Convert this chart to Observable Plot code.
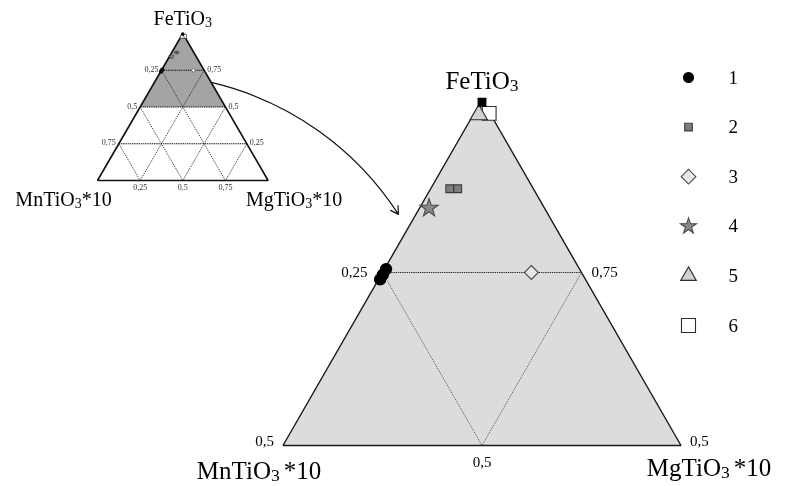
<!DOCTYPE html>
<html><head><meta charset="utf-8">
<script src="https://cdn.jsdelivr.net/npm/d3@7"></script>
<script src="https://cdn.jsdelivr.net/npm/@observablehq/plot@0.6"></script>
<style>
body{margin:0;background:#fff;}
#chart svg{display:block;font-family:"Liberation Serif","Times New Roman",serif;will-change:transform;}
</style>
</head><body><div id="chart"></div>
<script>
// ---------- data ----------
const componentNames = ["FeTiO3", "MnTiO3*10", "MgTiO3*10"];
const seriesLabels = ["1", "2", "3", "4", "5", "6"];
// each analysed point: series, FeTiO3, MnTiO3*10, MgTiO3*10 fractions
const pointSeries = ["1", "1", "1", "2", "2", "3", "4", "6", "5", "1b"];
const feTiO3     = [0.755, 0.747, 0.740, 0.871, 0.871, 0.750, 0.843, 0.980, 0.978, 0.996];
const mnTiO3x10  = [0.243, 0.251, 0.258, 0.105, 0.095, 0.063, 0.145, 0.001, 0.015, 0.002];
const mgTiO3x10  = [0.002, 0.002, 0.002, 0.024, 0.034, 0.187, 0.012, 0.019, 0.007, 0.002];
const gridLevels = [0.25, 0.5, 0.75];
const leftTickLabels  = ["0,25", "0,5", "0,75"];   // at FeTiO3 = 0.75, 0.5, 0.25
const rightTickLabels = ["0,75", "0,5", "0,25"];   // at FeTiO3 = 0.75, 0.5, 0.25
const baseTickLabels  = ["0,25", "0,5", "0,75"];   // at MgTiO3*10 = 0.25, 0.5, 0.75
const bigBaseLabel = "0,5";

// ---------- layout / styles ----------
const BIG   = {cx: 481.5, kx: 398, ay: 99, ky: 692};
const SMALL = {cx: 182.3, kx: 85.3, ay: 33, ky: 147};
const styles = {
  "1":  {symbol: "circle",   fill: "#000",    stroke: "#000",    r: 5.6},
  "1b": {symbol: "square",   fill: "#000",    stroke: "#000",    r: 4.4},
  "2":  {symbol: "square",   fill: "#7d7d7d", stroke: "#3c3c3c", r: 4.4},
  "3":  {symbol: "diamond2", fill: "#e8e8e8", stroke: "#4a4a4a", r: 6.3},
  "4":  {symbol: "star",     fill: "#8a8a8a", stroke: "#4a4a4a", r: 5.7},
  "5":  {symbol: "triangle", fill: "#d2d2d2", stroke: "#2e2e2e", r: 6.4},
  "6":  {symbol: "square",   fill: "#ffffff", stroke: "#2e2e2e", r: 7.8}
};
const legendStyleR = {"1": 5, "2": 4.3, "3": 6.6, "4": 5, "5": 5.8, "6": 7.9};
const drawOrder = ["1", "2", "3", "4", "6", "5", "1b"];

const X = (T, f, m, g) => T.cx + (g - m) * T.kx;
const Y = (T, f, m, g) => T.ay + (1 - f) * T.ky;
const pt = (T, c) => ({x: X(T, c[0], c[1], c[2]), y: Y(T, c[0], c[1], c[2])});

const points = pointSeries.map((s, i) => ({series: s, f: feTiO3[i], m: mnTiO3x10[i], g: mgTiO3x10[i]}));

// polygons
const smallTri = [[1,0,0],[0,1,0],[0,0,1],[1,0,0]].map(c => pt(SMALL, c));
const smallShade = [[1,0,0],[0.5,0.5,0],[0.5,0,0.5],[1,0,0]].map(c => pt(SMALL, c));
const bigTri = [[1,0,0],[0.5,0.5,0],[0.5,0,0.5],[1,0,0]].map(c => pt(BIG, c));

// grid segments
const seg = (T, a, b, kind) => {const p = pt(T, a), q = pt(T, b); return {x1: p.x, y1: p.y, x2: q.x, y2: q.y, kind};};
const smallGrid = gridLevels.flatMap(v => [
  seg(SMALL, [v, 1 - v, 0], [v, 0, 1 - v], "h"),
  seg(SMALL, [1 - v, v, 0], [0, v, 1 - v], "d"),
  seg(SMALL, [1 - v, 0, v], [0, 1 - v, v], "d")
]);
const bigGrid = [
  ...gridLevels.filter(v => v > 0.5).map(v => seg(BIG, [v, 1 - v, 0], [v, 0, 1 - v], "h")),
  ...gridLevels.filter(v => v < 0.5).flatMap(v => [
    seg(BIG, [1 - v, v, 0], [0.5, v, 0.5 - v], "d"),
    seg(BIG, [1 - v, 0, v], [0.5, 0.5 - v, v], "d")
  ])
];

function pointMarks(T, small) {
  return drawOrder.map(key => {
    const st = styles[key];
    return Plot.dot(points.filter(p => p.series === key), {
      x: p => X(T, p.f, p.m, p.g), y: p => Y(T, p.f, p.m, p.g),
      symbol: st.symbol, fill: small && key !== "1" && key !== "1b" && key !== "2" && key !== "4" ? "#fff" : st.fill,
      stroke: st.stroke, r: small ? Math.max(1.3, st.r * 0.3) : st.r,
      strokeWidth: small ? 0.7 : 1.1
    });
  });
}

// tick label rows
const smallTicks = [
  ...gridLevels.map((v, i) => ({...pt(SMALL, [1 - v, v, 0]), label: leftTickLabels[i], side: "L"})),
  ...gridLevels.map((v, i) => ({...pt(SMALL, [1 - v, 0, v]), label: rightTickLabels[i], side: "R"})),
  ...gridLevels.map((v, i) => ({...pt(SMALL, [0, 1 - v, v]), label: baseTickLabels[i], side: "B"}))
];
const bigTicks = [
  ...gridLevels.filter(v => v <= 0.5).map(v => ({...pt(BIG, [1 - v, v, 0]), label: leftTickLabels[gridLevels.indexOf(v)], side: "L", corner: v === 0.5})),
  ...gridLevels.filter(v => v <= 0.5).map(v => ({...pt(BIG, [1 - v, 0, v]), label: rightTickLabels[gridLevels.indexOf(v)], side: "R", corner: v === 0.5})),
  {...pt(BIG, [0.5, 0.25, 0.25]), label: bigBaseLabel, side: "B"}
];

const arrowData = [{from: pt(SMALL, [0.667, 0, 0.333]), to: pt(BIG, [0.834, 0.188, -0.022])}];

const legendRows = seriesLabels.map((s, i) => ({label: s, y: 77 + i * 49.6}));

const T1 = (arr, opts) => Plot.text(arr, {x: "x", y: "y", text: "label", ...opts});
const nameMark = (T, c, name, opts) => Plot.text([name], {x: () => X(T, ...c), y: () => Y(T, ...c), text: d => d, ...opts});

const chart = Plot.plot({
  width: 791, height: 486, margin: 0,
  x: {domain: [0, 791], range: [0, 791], axis: null},
  y: {domain: [0, 486], range: [0, 486], axis: null},
  marks: [
    // small triangle
    Plot.line(smallShade, {x: "x", y: "y", fill: "#a4a4a4", stroke: "none"}),
    Plot.link(smallGrid.filter(d => d.kind === "d"), {x1: "x1", y1: "y1", x2: "x2", y2: "y2", stroke: "#2a2a2a", strokeWidth: 0.9, strokeDasharray: "1.2,1"}),
    Plot.link(smallGrid.filter(d => d.kind === "h"), {x1: "x1", y1: "y1", x2: "x2", y2: "y2", stroke: "#111", strokeWidth: 1.1, strokeDasharray: "1.4,0.8"}),
    Plot.line(smallTri, {x: "x", y: "y", stroke: "#111", strokeWidth: 1.6, strokeLinejoin: "miter"}),
    ...pointMarks(SMALL, true),
    T1(smallTicks.filter(d => d.side === "L"), {textAnchor: "end", dx: -3, dy: -1, fontSize: 8, fill: "#333"}),
    T1(smallTicks.filter(d => d.side === "R"), {textAnchor: "start", dx: 3, dy: -1, fontSize: 8, fill: "#333"}),
    T1(smallTicks.filter(d => d.side === "B"), {textAnchor: "middle", dy: 7, fontSize: 8, fill: "#333"}),
    nameMark(SMALL, [1, 0, 0], componentNames[0], {dy: -14.5, fontSize: 20}),
    nameMark(SMALL, [0, 1, 0], componentNames[1], {dx: -34, dy: 19.5, fontSize: 20}),
    nameMark(SMALL, [0, 0, 1], componentNames[2], {dx: 26, dy: 19.5, fontSize: 20}),
    // arrow
    Plot.arrow(arrowData, {x1: d => d.from.x, y1: d => d.from.y, x2: d => d.to.x, y2: d => d.to.y, bend: 22, stroke: "#111", strokeWidth: 1.2, headLength: 11}),
    // big triangle
    Plot.line(bigTri, {x: "x", y: "y", fill: "#dcdcdc", stroke: "none"}),
    Plot.link(bigGrid.filter(d => d.kind === "d"), {x1: "x1", y1: "y1", x2: "x2", y2: "y2", stroke: "#555", strokeWidth: 1, strokeDasharray: "1,1"}),
    Plot.link(bigGrid.filter(d => d.kind === "h"), {x1: "x1", y1: "y1", x2: "x2", y2: "y2", stroke: "#222", strokeWidth: 1.1, strokeDasharray: "1.3,0.9"}),
    Plot.line(bigTri, {x: "x", y: "y", stroke: "#1a1a1a", strokeWidth: 1.4, strokeLinejoin: "miter"}),
    ...pointMarks(BIG, false),
    T1(bigTicks.filter(d => d.side === "L" && !d.corner), {textAnchor: "end", dx: -15, dy: 0, fontSize: 15}),
    T1(bigTicks.filter(d => d.side === "L" && d.corner), {textAnchor: "end", dx: -9, dy: -4, fontSize: 15}),
    T1(bigTicks.filter(d => d.side === "R" && !d.corner), {textAnchor: "start", dx: 10, dy: 0, fontSize: 15}),
    T1(bigTicks.filter(d => d.side === "R" && d.corner), {textAnchor: "start", dx: 9, dy: -4, fontSize: 15}),
    T1(bigTicks.filter(d => d.side === "B"), {textAnchor: "middle", dy: 17, fontSize: 15}),
    nameMark(BIG, [1, 0, 0], componentNames[0], {dy: -19, fontSize: 25}),
    nameMark(BIG, [0.5, 0.5, 0], componentNames[1], {dx: -24, dy: 25, fontSize: 25}),
    nameMark(BIG, [0.5, 0, 0.5], componentNames[2], {dx: 28, dy: 22, fontSize: 25}),
    // legend
    ...seriesLabels.map(s => Plot.dot(legendRows.filter(r => r.label === s), {
      x: () => 688, y: "y", symbol: styles[s].symbol, fill: styles[s].fill, stroke: styles[s].stroke,
      r: legendStyleR[s], strokeWidth: 1.1
    })),
    Plot.text(legendRows, {x: () => 728, y: "y", text: "label", textAnchor: "start", fontSize: 19})
  ]
});

// subscript the "3" in the formula labels (big labels get a small gap before "*10")
d3.select(chart).selectAll("text").each(function () {
  const t = this.textContent;
  const m = t.match(/^(.*TiO)3(.*)$/);
  if (!m) return;
  const big = (this.parentNode.getAttribute("font-size") || "").startsWith("25");
  const sel = d3.select(this);
  sel.text(null);
  sel.append("tspan").text(m[1]);
  sel.append("tspan").attr("font-size", "70%").attr("dy", "0.12em").text("3");
  if (m[2]) sel.append("tspan").attr("dy", "-0.084em").attr("dx", big ? 4 : 0).text(m[2]);
});

document.getElementById("chart").append(chart);
</script>
</body></html>
